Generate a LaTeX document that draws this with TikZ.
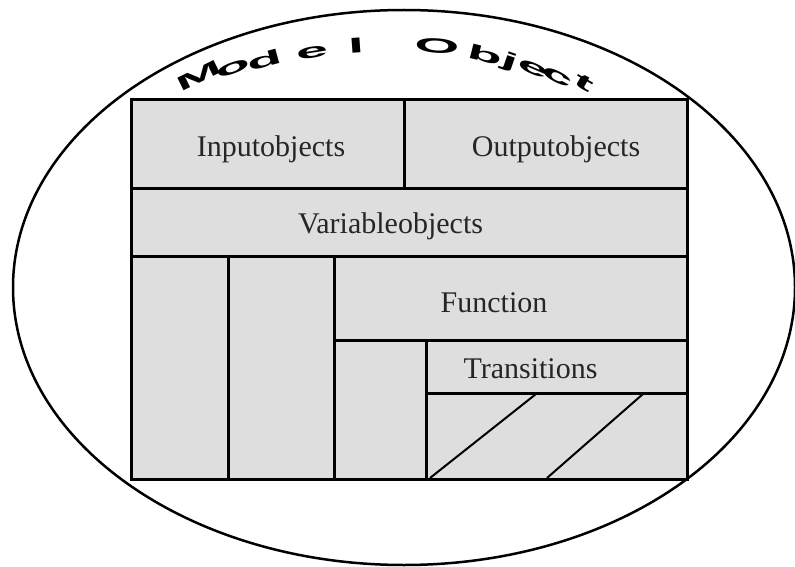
\documentclass[tikz,border=0pt]{standalone}
\usepackage{fontspec}
\setmainfont{Liberation Serif}
\newfontfamily\arcfont{Liberation Sans}
\usetikzlibrary{shapes.geometric,fit}
\definecolor{cellgray}{RGB}{222,222,222}
\tikzset{
  cell/.style={draw=black, fill=cellgray, line width=3pt, inner sep=0pt, outer sep=0pt},
  lbl/.style={anchor=base, inner sep=0pt, font=\fontsize{30}{34}\selectfont, text=black!85},
  arcletter/.style={inner sep=0pt, font=\arcfont\fontsize{24}{26}\selectfont},
  hatchline/.style={line width=2pt}
}
\begin{document}
\begin{tikzpicture}[x=1pt,y=-1pt]
\useasboundingbox (0,0) rectangle (795,567);
\fill[white] (0,0) rectangle (795,567);
\node[draw, line width=2.5pt, ellipse, inner sep=0pt, minimum width=782pt, minimum height=555pt] (model) at (404,287.5) {};
% cells
\node[cell, fit={(131,100) (404,188)}] (inp) {};
\node[cell, fit={(404,100) (687,188)}] (outp) {};
\node[cell, fit={(131,188) (687,256)}] (var) {};
\node[cell, fit={(131,256) (228,479)}] (colA) {};
\node[cell, fit={(228,256) (334.5,479)}] (colB) {};
\node[cell, fit={(334.5,256) (687,340)}] (func) {};
\node[cell, fit={(334.5,340) (426,479)}] (colC) {};
\node[cell, fit={(426,340) (687,393)}] (trans) {};
\node[cell, fit={(426,393) (687,479)}] (hatch) {};
% diagonal strokes
\coordinate (h1a) at (430,478);
\coordinate (h1b) at (536,394);
\coordinate (h2a) at (547,478);
\coordinate (h2b) at (643,394);
\draw[hatchline] (h1a) -- (h1b);
\draw[hatchline] (h2a) -- (h2b);
% labels
\node[lbl] (linp) at (271,157) {Inputobjects};
\node[lbl] (loutp) at (556,157) {Outputobjects};
\node[lbl] (lvar) at (390.5,233) {Variableobjects};
\node[lbl] (lfunc) at (494,312) {Function};
\node[lbl] (ltrans) at (530.5,378) {Transitions};
% arc text
\foreach \ch/\px/\py/\ang [count=\i] in {M/199/76/26, o/233/68/20, d/265/60/15, e/312/53/9, l/356/46/4, O/437/46/-4, b/485/55/-14, j/510/62/-19, e/533/69/-23, c/557/77/-27, t/584/83/-30}
  \node[arcletter, rotate=\ang] (arc\i) at (\px,\py) {\scalebox{2.4}[0.85]{\bfseries\ch}};
\end{tikzpicture}
\end{document}
